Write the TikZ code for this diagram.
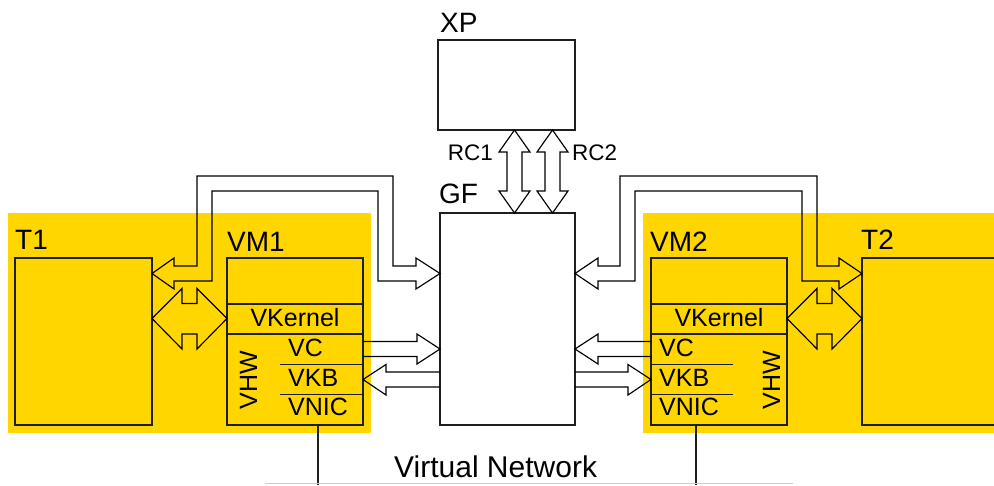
\documentclass[tikz,border=0pt]{standalone}
\usepackage{fontspec}
\setmainfont{Liberation Sans}
\definecolor{gold}{RGB}{255,214,0}
\definecolor{lineg}{RGB}{30,30,30}
\tikzset{
  box/.style={draw=lineg, line width=1.2pt, inner sep=0pt, outer sep=0pt, anchor=north west},
  blk/.style={draw=black, line width=1.15pt, line join=miter},
  title/.style={font=\fontsize{28}{28}\selectfont, inner sep=0pt, anchor=base west},
  txt/.style={font=\fontsize{25}{25}\selectfont, inner sep=0pt, anchor=base west},
  rclbl/.style={font=\fontsize{22.5}{22.5}\selectfont, inner sep=0pt},
  netlbl/.style={font=\fontsize{30}{30}\selectfont, inner sep=0pt, anchor=base west},
}
\begin{document}
\begin{tikzpicture}[x=1pt,y=-1pt]
\path[use as bounding box, clip] (0,0) rectangle (994,485);
% yellow areas
\fill[gold] (8,213) rectangle (371,433);
\fill[gold] (643,213) rectangle (1000,433);
% boxes
\node[box, minimum width=137pt, minimum height=90pt] (xp) at (438,40) {};
\node[box, minimum width=135pt, minimum height=212pt] (gf) at (440,213) {};
\node[box, minimum width=137pt, minimum height=167pt] (t1) at (15,258) {};
\node[box, minimum width=136pt, minimum height=167pt] (vm1) at (227,258) {};
\node[box, minimum width=136pt, minimum height=167pt] (vm2) at (651,258) {};
\node[box, minimum width=150pt, minimum height=167pt] (t2) at (862,258) {};
% titles
\node[title] (lxp) at (440,32) {XP};
\node[title] (lgf) at (439,203) {GF};
\node[title] (lt1) at (15,249) {T1};
\node[title] (lvm1) at (227,251) {VM1};
\node[title] (lvm2) at (650,251) {VM2};
\node[title] (lt2) at (861,249) {T2};
% VM1 internals
\draw[lineg, line width=1.2pt] (vm1.west |- 0,304) -- (vm1.east |- 0,304);
\draw[lineg, line width=1.2pt] (vm1.west |- 0,334) -- (vm1.east |- 0,334);
\draw[lineg, line width=1.2pt] (280,364.5) -- (vm1.east |- 0,364.5);
\draw[lineg, line width=1.2pt] (280,394.5) -- (vm1.east |- 0,394.5);
\node[txt, anchor=base] (vk1) at (295,326) {VKernel};
\node[txt] (vc1) at (288,356) {VC};
\node[txt] (vkb1) at (288,386) {VKB};
\node[txt] (vnic1) at (288,415) {VNIC};
\node[txt, anchor=base, rotate=90] (vhw1) at (257,380) {VHW};
% VM2 internals
\draw[lineg, line width=1.2pt] (vm2.west |- 0,304) -- (vm2.east |- 0,304);
\draw[lineg, line width=1.2pt] (vm2.west |- 0,334) -- (vm2.east |- 0,334);
\draw[lineg, line width=1.2pt] (vm2.west |- 0,364.5) -- (733,364.5);
\draw[lineg, line width=1.2pt] (vm2.west |- 0,394.5) -- (733,394.5);
\node[txt, anchor=base] (vk2) at (719,326) {VKernel};
\node[txt] (vc2) at (659,356) {VC};
\node[txt] (vkb2) at (659,386) {VKB};
\node[txt] (vnic2) at (659,415) {VNIC};
\node[txt, anchor=base, rotate=90] (vhw2) at (780,380) {VHW};
% RC arrows
\draw[blk] (514.5,130) -- (530,152) -- (522,152) -- (522,191) -- (530,191) -- (514.5,213)
  -- (499,191) -- (507,191) -- (507,152) -- (499,152) -- cycle;
\draw[blk] (552.5,130) -- (568,152) -- (560,152) -- (560,191) -- (568,191) -- (552.5,213)
  -- (537,191) -- (545,191) -- (545,152) -- (537,152) -- cycle;
\node[rclbl, anchor=base east] (rc1) at (493,160) {RC1};
\node[rclbl, anchor=base west] (rc2) at (572,160) {RC2};
% bent arrow T1 <-> GF
\draw[blk] (152,273.5) -- (174,258) -- (174,266) -- (197,266) -- (197,176) -- (393,176)
  -- (393,266) -- (416,266) -- (416,258) -- (440,273.5) -- (416,289) -- (416,281)
  -- (378,281) -- (378,191) -- (212,191) -- (212,281) -- (174,281) -- (174,289) -- cycle;
% bent arrow GF <-> T2
\draw[blk] (575,273.5) -- (598,258) -- (598,266) -- (620,266) -- (620,176) -- (817,176)
  -- (817,266) -- (839,266) -- (839,258) -- (862,273.5) -- (839,289) -- (839,281)
  -- (802,281) -- (802,191) -- (635,191) -- (635,281) -- (598,281) -- (598,289) -- cycle;
% fat double arrows
\draw[blk] (152,318.5) -- (182,288.5) -- (182,303.5) -- (197,303.5) -- (197,288.5) -- (227,318.5)
  -- (197,349) -- (197,334) -- (182,334) -- (182,349) -- cycle;
\draw[blk] (787,318.5) -- (817,288.5) -- (817,303.5) -- (832,303.5) -- (832,288.5) -- (862,318.5)
  -- (832,349) -- (832,334) -- (817,334) -- (817,349) -- cycle;
% VC / VKB arrows
\draw[blk] (363,341.5) -- (417,341.5) -- (417,334) -- (440,349) -- (417,364) -- (417,356.5) -- (363,356.5);
\draw[blk] (440,372) -- (386,372) -- (386,364.5) -- (363,379.5) -- (386,395) -- (386,387) -- (440,387);
\draw[blk] (651,341.5) -- (598,341.5) -- (598,334) -- (575,349) -- (598,364) -- (598,356.5) -- (651,356.5);
\draw[blk] (575,372) -- (628,372) -- (628,364.5) -- (651,379.5) -- (628,395) -- (628,387) -- (575,387);
% virtual network
\coordinate (n1) at (318,485);
\coordinate (n2) at (696,485);
\draw[lineg, line width=1.2pt] (vm1.south -| 318,0) -- (n1);
\draw[lineg, line width=1.2pt] (vm2.south -| 696,0) -- (n2);
\draw[black!20, line width=1.2pt] (265,483.5) -- (793,483.5);
\node[netlbl] (vnet) at (394,477) {Virtual Network};
\end{tikzpicture}
\end{document}
